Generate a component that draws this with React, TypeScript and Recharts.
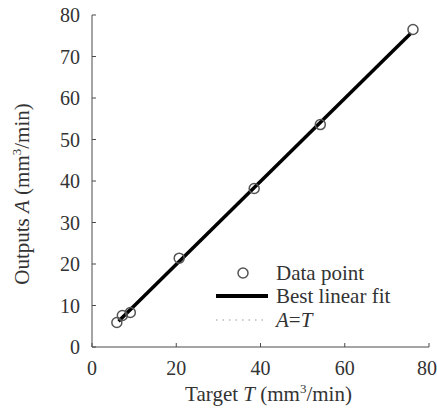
import { Legend, Scatter, ScatterChart, XAxis, YAxis } from "recharts";

const targetT = [5.9, 7.2, 9.1, 20.7, 38.5, 54.2, 76.2];
const outputA = [5.9, 7.6, 8.3, 21.4, 38.2, 53.6, 76.5];
const fitT = [6.3, 75.7];
const fitA = [6.2, 75.6];
const xTicks = [0, 20, 40, 60, 80];
const yTicks = [0, 10, 20, 30, 40, 50, 60, 70, 80];

const points = targetT.map((x, i) => ({ x, y: outputA[i] }));
const fit = fitT.map((x, i) => ({ x, y: fitA[i] }));

const FONT = '"Liberation Serif", "Times New Roman", serif';
const AXIS = "#4a4a4a";
const TEXT = "#333";

const tickStyle = { fill: TEXT, fontSize: 20, fontFamily: FONT };

function XLabel({ viewBox }: any) {
  const cx = viewBox.x + viewBox.width / 2 + 8;
  return (
    <text x={cx} y={viewBox.y + 54} textAnchor="middle" fill={TEXT} fontSize={21} fontFamily={FONT}>
      Target <tspan fontStyle="italic">T</tspan> (mm
      <tspan dy={-8} fontSize={13}>3</tspan>
      <tspan dy={8}>/min)</tspan>
    </text>
  );
}

function YLabel({ viewBox }: any) {
  const cx = viewBox.x + 29;
  const cy = viewBox.y + viewBox.height / 2 + 13;
  return (
    <text
      x={cx}
      y={cy}
      textAnchor="middle"
      fill={TEXT}
      fontSize={21}
      fontFamily={FONT}
      transform={`rotate(-90 ${cx} ${cy})`}
    >
      Outputs <tspan fontStyle="italic">A</tspan> (mm
      <tspan dy={-8} fontSize={13}>3</tspan>
      <tspan dy={8}>/min)</tspan>
    </text>
  );
}

function LegendBox() {
  return (
    <svg width={200} height={80} style={{ display: "block" }}>
      <circle cx={33} cy={15} r={5} fill="none" stroke="#555" strokeWidth={1.5} />
      <line x1={6} x2={58} y1={38} y2={38} stroke="#000" strokeWidth={4} />
      <line x1={6} x2={58} y1={62} y2={62} stroke="#bbb" strokeWidth={1.5} strokeDasharray="1.5 5" />
      <g fill={TEXT} fontSize={21} fontFamily={FONT}>
        <text x={66} y={22}>Data point</text>
        <text x={66} y={45}>Best linear fit</text>
        <text x={66} y={69} fontStyle="italic">
          A<tspan fontStyle="normal">=</tspan>T
        </text>
      </g>
    </svg>
  );
}

export default function App() {
  return (
    <div style={{ position: "absolute", left: 0, top: 0, background: "#fff" }}>
      <ScatterChart width={437} height={410} margin={{ top: 15, right: 8, bottom: 0, left: 0 }}>
        <XAxis
          xAxisId="b"
          type="number"
          dataKey="x"
          domain={[0, 80]}
          ticks={xTicks}
          height={63}
          stroke={AXIS}
          tickSize={-4}
          tickMargin={18}
          tick={tickStyle}
          label={<XLabel />}
        />
        <XAxis
          xAxisId="t"
          orientation="top"
          type="number"
          dataKey="x"
          domain={[0, 80]}
          ticks={xTicks}
          height={0}
          stroke={AXIS}
          tickSize={-4}
          tickFormatter={() => ""}
        />
        <YAxis
          yAxisId="l"
          type="number"
          dataKey="y"
          domain={[0, 80]}
          ticks={yTicks}
          width={92}
          stroke={AXIS}
          tickSize={-4}
          tickMargin={16}
          tick={tickStyle}
          label={<YLabel />}
        />
        <YAxis
          yAxisId="r"
          orientation="right"
          type="number"
          dataKey="y"
          domain={[0, 80]}
          ticks={yTicks}
          width={0}
          stroke={AXIS}
          tickSize={-4}
          tickFormatter={() => ""}
        />
        <Scatter
          xAxisId="b"
          yAxisId="l"
          data={fit}
          line={{ stroke: "#bbb", strokeWidth: 1.5, strokeDasharray: "1.5 5" }}
          shape={() => null}
          isAnimationActive={false}
        />
        <Scatter
          xAxisId="b"
          yAxisId="l"
          data={fit}
          line={{ stroke: "#000", strokeWidth: 3.5 }}
          shape={() => null}
          isAnimationActive={false}
        />
        <Scatter
          xAxisId="b"
          yAxisId="l"
          data={points}
          shape={(p: any) => <circle cx={p.cx} cy={p.cy} r={5} fill="none" stroke="#555" strokeWidth={1.5} />}
          isAnimationActive={false}
        />
        <Legend
          layout="vertical"
          align="center"
          verticalAlign="middle"
          content={<LegendBox />}
          wrapperStyle={{ left: 210, top: 258, width: 200, height: 80 }}
        />
      </ScatterChart>
    </div>
  );
}
